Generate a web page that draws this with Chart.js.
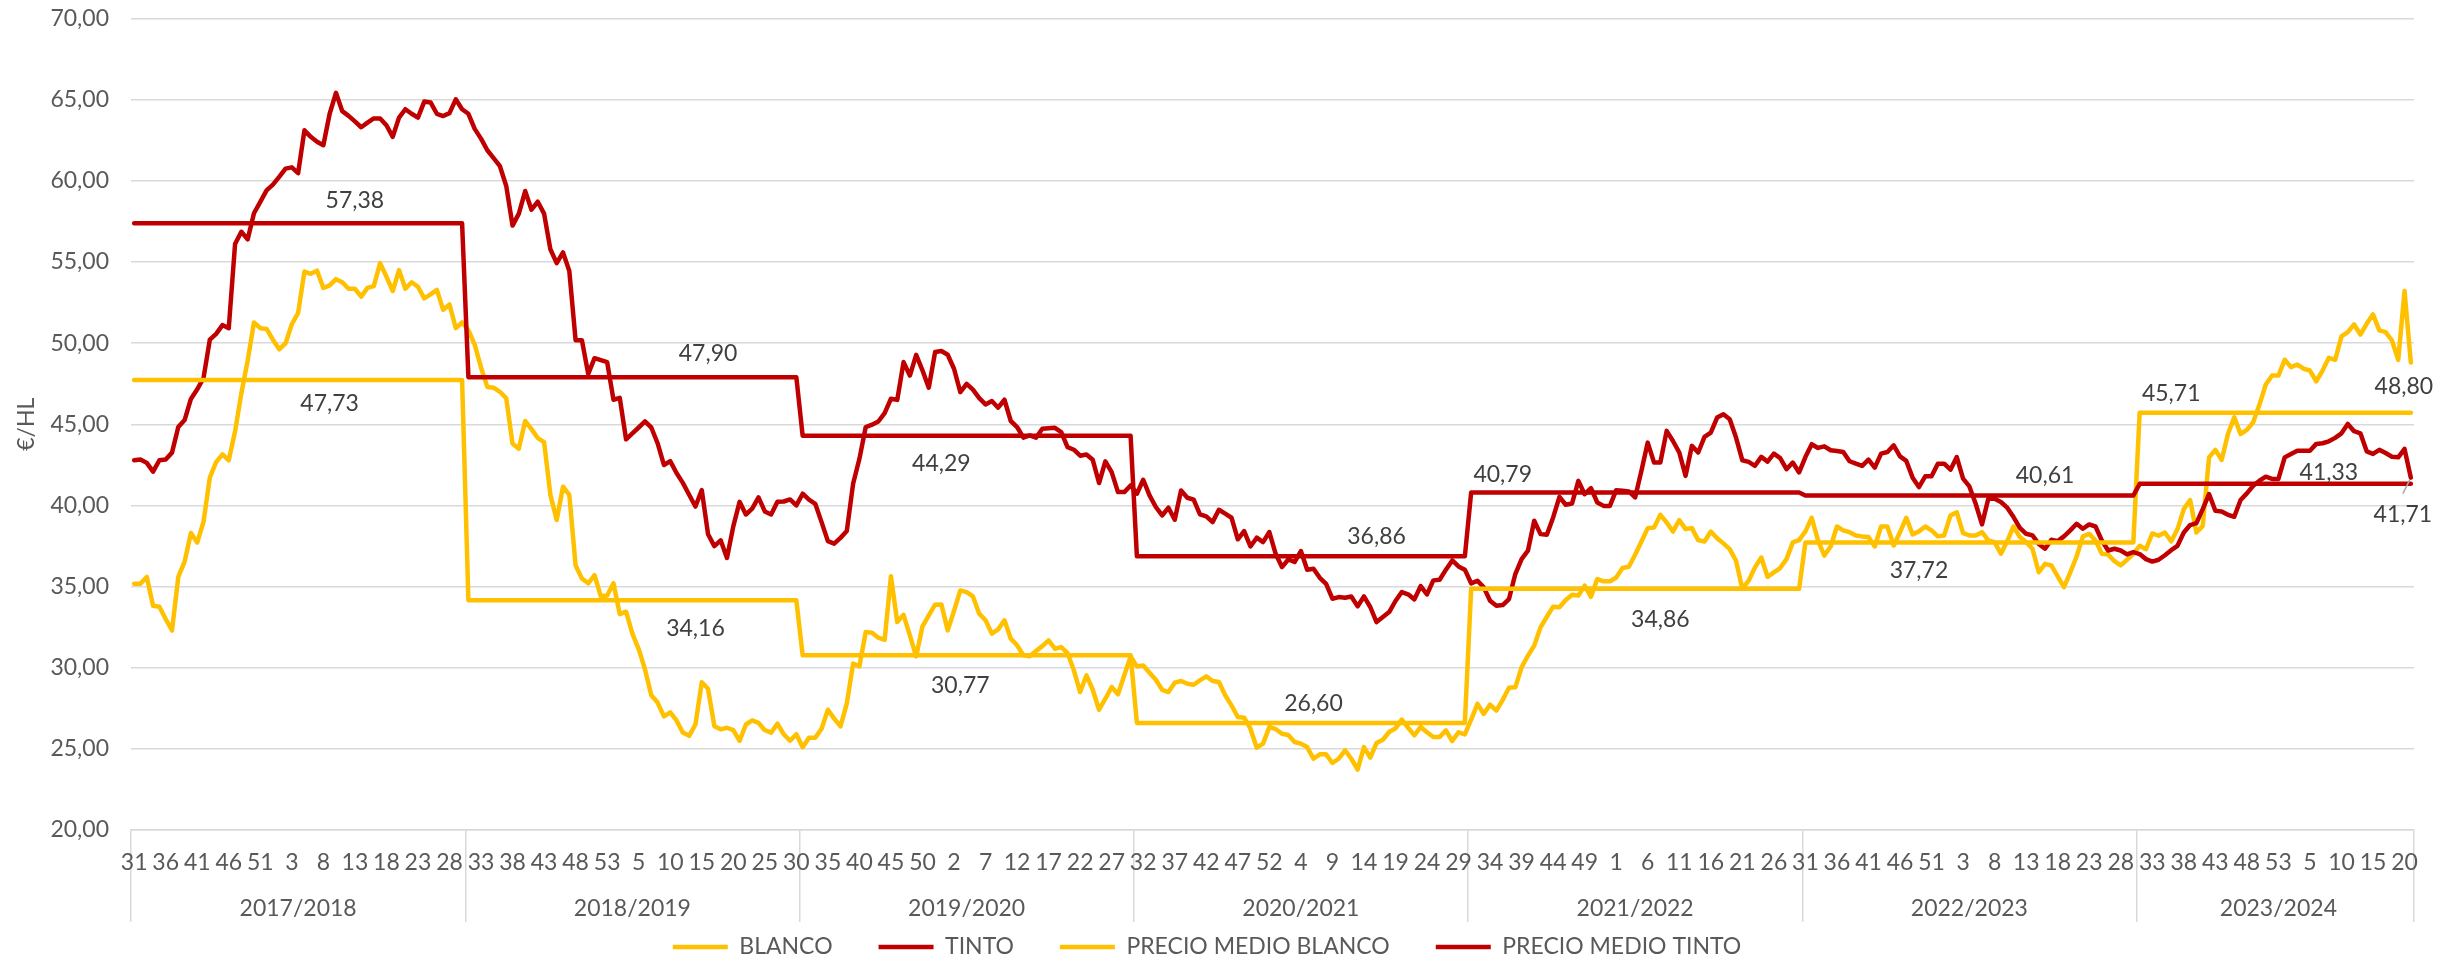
<!DOCTYPE html>
<html>
<head>
<meta charset="utf-8">
<script src="https://cdn.jsdelivr.net/npm/chart.js@4.4.1/dist/chart.umd.min.js"></script>
<style>
  html, body { margin: 0; padding: 0; background: #ffffff; }
  #wrap { width: 2456px; height: 963px; position: relative; }
</style>
</head>
<body>
<div id="wrap"><canvas id="chart"></canvas></div>
<script>
// ---------------- DATA ----------------
const campaigns = ['2017/2018', '2018/2019', '2019/2020', '2020/2021', '2021/2022', '2022/2023', '2023/2024'];
const campaignFirstWeek = 31;
const weeksPerYear = 53;

// BLANCO (€/HL), weekly, per campaign
const blanco1718 = [35.17, 35.17, 35.59, 33.82, 33.75, 33.00, 32.29, 35.59, 36.53, 38.30, 37.71, 39.00, 41.72, 42.67, 43.14, 42.78, 44.55, 46.91, 48.92, 51.27, 50.92, 50.87, 50.21, 49.62, 49.98, 51.16, 51.86, 54.41, 54.27, 54.46, 53.40, 53.56, 53.94, 53.75, 53.35, 53.35, 52.86, 53.40, 53.51, 54.93, 54.10, 53.21, 54.50, 53.35, 53.75, 53.47, 52.76, 53.00, 53.28, 52.05, 52.38, 50.92, 51.27];
const blanco1819 = [50.80, 49.90, 48.50, 47.30, 47.25, 47.00, 46.60, 43.80, 43.50, 45.20, 44.70, 44.15, 43.90, 40.65, 39.10, 41.15, 40.65, 36.30, 35.50, 35.20, 35.70, 34.40, 34.45, 35.20, 33.30, 33.45, 32.10, 31.15, 29.90, 28.30, 27.85, 27.00, 27.25, 26.75, 26.00, 25.80, 26.50, 29.10, 28.70, 26.40, 26.20, 26.30, 26.15, 25.50, 26.50, 26.75, 26.60, 26.15, 26.00, 26.55, 25.90, 25.50, 25.90];
const blanco1920 = [25.10, 25.69, 25.69, 26.24, 27.41, 26.86, 26.39, 27.78, 30.25, 30.08, 32.20, 32.16, 31.85, 31.72, 35.63, 32.81, 33.26, 31.99, 30.70, 32.55, 33.22, 33.88, 33.90, 32.30, 33.49, 34.76, 34.66, 34.39, 33.33, 32.92, 32.10, 32.36, 32.92, 31.79, 31.38, 30.76, 30.70, 31.03, 31.33, 31.68, 31.17, 31.27, 30.90, 29.84, 28.50, 29.53, 28.64, 27.41, 28.09, 28.81, 28.36, 29.53, 30.70];
const blanco2021 = [30.08, 30.14, 29.69, 29.26, 28.64, 28.50, 29.08, 29.18, 29.01, 28.95, 29.22, 29.47, 29.18, 29.12, 28.30, 27.68, 26.96, 26.92, 26.24, 25.07, 25.32, 26.35, 26.22, 25.93, 25.85, 25.42, 25.32, 25.11, 24.39, 24.66, 24.66, 24.13, 24.39, 24.91, 24.39, 23.72, 25.11, 24.46, 25.36, 25.56, 26.04, 26.26, 26.80, 26.30, 25.83, 26.35, 26.02, 25.73, 25.73, 26.14, 25.48, 26.02, 25.89];
const blanco2122 = [26.80, 27.77, 27.15, 27.73, 27.36, 28.02, 28.76, 28.79, 30.03, 30.74, 31.36, 32.49, 33.14, 33.76, 33.72, 34.17, 34.50, 34.44, 35.05, 34.37, 35.46, 35.32, 35.32, 35.56, 36.14, 36.22, 36.96, 37.78, 38.60, 38.64, 39.42, 38.95, 38.39, 39.09, 38.54, 38.60, 37.86, 37.78, 38.39, 37.98, 37.66, 37.31, 36.59, 34.85, 35.36, 36.18, 36.79, 35.60, 35.87, 36.14, 36.69, 37.72, 37.86];
const blanco2223 = [38.40, 39.24, 37.84, 36.91, 37.47, 38.70, 38.46, 38.35, 38.15, 38.09, 38.05, 37.47, 38.70, 38.70, 37.53, 38.35, 39.24, 38.21, 38.40, 38.70, 38.46, 38.09, 38.15, 39.38, 39.57, 38.29, 38.15, 38.15, 38.35, 37.84, 37.74, 37.02, 37.80, 38.70, 38.05, 37.74, 37.33, 35.88, 36.40, 36.30, 35.62, 34.96, 35.88, 36.85, 38.09, 38.25, 37.84, 37.02, 36.98, 36.56, 36.30, 36.65, 37.02];
const blanco2324 = [37.51, 37.30, 38.27, 38.13, 38.33, 37.78, 38.54, 39.77, 40.33, 38.33, 38.74, 42.96, 43.42, 42.80, 44.40, 45.43, 44.40, 44.65, 45.12, 46.21, 47.45, 48.00, 48.00, 48.97, 48.52, 48.68, 48.42, 48.31, 47.65, 48.31, 49.09, 48.97, 50.41, 50.68, 51.15, 50.53, 51.19, 51.77, 50.78, 50.68, 50.16, 48.97, 53.21, 48.80];

// TINTO (€/HL), weekly, per campaign
const tinto1718 = [42.78, 42.83, 42.62, 42.08, 42.78, 42.83, 43.25, 44.83, 45.26, 46.56, 47.15, 47.85, 50.21, 50.57, 51.11, 50.92, 56.10, 56.86, 56.39, 58.00, 58.70, 59.41, 59.76, 60.24, 60.75, 60.83, 60.47, 63.11, 62.71, 62.41, 62.19, 64.13, 65.42, 64.29, 64.00, 63.66, 63.30, 63.58, 63.84, 63.84, 63.42, 62.71, 63.89, 64.41, 64.13, 63.89, 64.88, 64.83, 64.13, 63.99, 64.17, 65.02, 64.41];
const tinto1819 = [64.13, 63.20, 62.60, 61.88, 61.40, 60.90, 59.68, 57.24, 57.98, 59.37, 58.22, 58.71, 57.98, 55.78, 54.93, 55.59, 54.44, 50.17, 50.17, 48.10, 49.07, 48.95, 48.83, 46.51, 46.63, 44.07, 44.44, 44.80, 45.17, 44.80, 43.83, 42.49, 42.73, 42.00, 41.39, 40.66, 39.93, 40.95, 38.22, 37.49, 37.85, 36.76, 38.71, 40.22, 39.44, 39.80, 40.49, 39.63, 39.44, 40.22, 40.24, 40.37, 40.00];
const tinto1920 = [40.72, 40.35, 40.10, 38.97, 37.80, 37.64, 38.00, 38.42, 41.33, 42.87, 44.83, 44.97, 45.17, 45.69, 46.57, 46.50, 48.83, 48.00, 49.28, 48.32, 47.25, 49.45, 49.51, 49.28, 48.42, 46.98, 47.49, 47.13, 46.61, 46.22, 46.43, 46.02, 46.51, 45.20, 44.83, 44.17, 44.31, 44.17, 44.72, 44.76, 44.78, 44.52, 43.59, 43.43, 43.06, 43.14, 42.81, 41.38, 42.71, 42.05, 40.82, 40.82, 41.23];
const tinto2021 = [40.72, 41.58, 40.62, 39.90, 39.38, 39.86, 39.12, 40.92, 40.47, 40.35, 39.45, 39.32, 38.97, 39.73, 39.49, 39.24, 37.91, 38.42, 37.47, 38.01, 37.74, 38.36, 37.02, 36.20, 36.67, 36.51, 37.19, 36.04, 36.10, 35.54, 35.17, 34.25, 34.35, 34.31, 34.39, 33.78, 34.39, 33.74, 32.81, 33.12, 33.43, 34.11, 34.66, 34.52, 34.21, 35.03, 34.52, 35.38, 35.42, 36.04, 36.61, 36.24, 36.04];
const tinto2122 = [35.20, 35.36, 34.95, 34.13, 33.82, 33.86, 34.23, 35.77, 36.69, 37.21, 39.05, 38.23, 38.19, 39.26, 40.53, 40.04, 40.12, 41.51, 40.69, 41.06, 40.18, 39.97, 39.97, 40.94, 40.90, 40.86, 40.49, 42.13, 43.87, 42.64, 42.64, 44.59, 43.97, 43.26, 41.82, 43.67, 43.26, 44.22, 44.49, 45.41, 45.62, 45.31, 44.18, 42.78, 42.68, 42.44, 42.99, 42.70, 43.19, 42.91, 42.23, 42.64, 42.03];
const tinto2223 = [42.98, 43.77, 43.54, 43.64, 43.40, 43.35, 43.29, 42.72, 42.57, 42.43, 42.82, 42.33, 43.19, 43.29, 43.70, 43.02, 42.74, 41.71, 41.13, 41.79, 41.79, 42.57, 42.57, 42.20, 42.98, 41.65, 41.17, 40.10, 38.83, 40.41, 40.41, 40.21, 39.86, 39.28, 38.62, 38.25, 38.15, 37.63, 37.33, 37.88, 37.80, 38.09, 38.46, 38.87, 38.56, 38.83, 38.70, 37.84, 37.22, 37.33, 37.22, 36.98, 37.12];
const tinto2324 = [37.00, 36.69, 36.54, 36.65, 36.93, 37.24, 37.51, 38.33, 38.79, 38.91, 39.77, 40.70, 39.67, 39.63, 39.42, 39.30, 40.33, 40.74, 41.21, 41.52, 41.77, 41.63, 41.63, 42.96, 43.17, 43.37, 43.37, 43.37, 43.79, 43.83, 43.95, 44.16, 44.44, 45.02, 44.57, 44.44, 43.33, 43.17, 43.42, 43.23, 43.00, 42.96, 43.48, 41.71];

// Average price per campaign (€/HL)
const precioMedioBlanco = [47.73, 34.16, 30.77, 26.60, 34.86, 37.72, 45.71];
const precioMedioTinto  = [57.38, 47.90, 44.29, 36.86, 40.79, 40.61, 41.33];

const seriesNames = ['BLANCO', 'TINTO', 'PRECIO MEDIO BLANCO', 'PRECIO MEDIO TINTO'];
const blancoByCampaign = [blanco1718, blanco1819, blanco1920, blanco2021, blanco2122, blanco2223, blanco2324];
const tintoByCampaign  = [tinto1718, tinto1819, tinto1920, tinto2021, tinto2122, tinto2223, tinto2324];

// ---------------- BUILD TABLE ----------------
const weekLabels = [], blanco = [], tinto = [], medioBlanco = [], medioTinto = [];
const campaignStart = [], campaignMid = [];
blancoByCampaign.forEach((arr, c) => {
  campaignStart.push(weekLabels.length);
  campaignMid.push(weekLabels.length + Math.floor(arr.length / 2));
  arr.forEach((v, k) => {
    weekLabels.push(String(((campaignFirstWeek - 1 + k) % weeksPerYear) + 1));
    blanco.push(v);
    tinto.push(tintoByCampaign[c][k]);
    medioBlanco.push(precioMedioBlanco[c]);
    medioTinto.push(precioMedioTinto[c]);
  });
});
const startSet = new Set(campaignStart);

// ---------------- STYLE ----------------
const FONT = 'Lato';
const FS = 23;
const GOLD = '#FFC000';
const RED = '#C00000';
const GRID = '#D9D9D9';
const TXT = '#595959';

// label placement (which point gets a value label, and offset in px)
const labelPlacement = [
  {ds: 3, campaign: 0, week: 35, dy: -22.5},
  {ds: 2, campaign: 0, week: 31, dy: 23.5},
  {ds: 3, campaign: 1, week: 38, dy: -24},
  {ds: 2, campaign: 1, week: 36, dy: 28},
  {ds: 3, campaign: 2, week: 22, dy: 28},
  {ds: 2, campaign: 2, week: 25, dy: 30},
  {ds: 3, campaign: 3, week: 38, dy: -19.5},
  {ds: 2, campaign: 3, week: 28, dy: -19.5},
  {ds: 3, campaign: 4, week: 5, dy: -18.5},
  {ds: 2, campaign: 4, week: 30, dy: 30.5},
  {ds: 3, campaign: 5, week: 38, dy: -19.5},
  {ds: 2, campaign: 5, week: 18, dy: 28},
  {ds: 2, campaign: 6, week: 5, dy: -19.5},
  {ds: 3, campaign: 6, week: 30, dy: -11},
  {ds: 0, last: true, dx: -7, dy: 24.5},
  {ds: 1, last: true, dx: -8, dy: 36.5, leader: true}
];

const fmt = v => v.toFixed(2).replace('.', ',');

const valueLabels = {
  id: 'valueLabels',
  afterDatasetsDraw(chart) {
    const ctx = chart.ctx;
    ctx.save();
    ctx.font = FS + 'px ' + FONT;
    ctx.fillStyle = '#404040';
    ctx.textAlign = 'center';
    ctx.textBaseline = 'middle';
    labelPlacement.forEach(p => {
      const meta = chart.getDatasetMeta(p.ds);
      const idx = p.last ? meta.data.length - 1 : campaignStart[p.campaign] + p.week;
      const pt = meta.data[idx];
      const val = chart.data.datasets[p.ds].data[idx];
      const x = pt.x + (p.dx || 0);
      const y = pt.y + p.dy;
      if (p.leader) {
        ctx.save();
        ctx.strokeStyle = '#A6A6A6';
        ctx.lineWidth = 1.5;
        ctx.beginPath();
        ctx.moveTo(pt.x - 8, pt.y + 16);
        ctx.lineTo(pt.x - 1, pt.y + 2);
        ctx.stroke();
        ctx.restore();
      }
      ctx.fillText(fmt(val), x, y);
    });
    ctx.restore();
  }
};

const lineStyle = (color, width) => ({
  borderColor: color, backgroundColor: color, borderWidth: width,
  pointRadius: 0, pointHoverRadius: 0, tension: 0, fill: false,
  borderJoinStyle: 'round', borderCapStyle: 'round'
});

Chart.defaults.font.family = FONT;
Chart.defaults.font.size = FS;
Chart.defaults.color = TXT;

new Chart(document.getElementById('chart'), {
  type: 'line',
  data: {
    labels: weekLabels,
    datasets: [
      Object.assign({label: seriesNames[0], data: blanco, order: 4}, lineStyle(GOLD, 4.5)),
      Object.assign({label: seriesNames[1], data: tinto, order: 3}, lineStyle(RED, 4.5)),
      Object.assign({label: seriesNames[2], data: medioBlanco, order: 2}, lineStyle(GOLD, 4.5)),
      Object.assign({label: seriesNames[3], data: medioTinto, order: 1}, lineStyle(RED, 4.5))
    ]
  },
  options: {
    responsive: true,
    maintainAspectRatio: false,
    animation: false,
    events: [],
    layout: { padding: { top: 18.5, right: 42, bottom: -5.5, left: 0 } },
    plugins: {
      tooltip: { enabled: false },
      legend: {
        position: 'bottom',
        labels: {
          usePointStyle: true,
          pointStyle: 'line',
          pointStyleWidth: 55,
          boxWidth: 55,
          padding: 46,
          color: TXT,
          font: { size: FS, family: FONT },
          sort: (a, b) => a.datasetIndex - b.datasetIndex
        }
      }
    },
    scales: {
      x: {
        type: 'category',
        offset: true,
        grid: {
          display: true,
          drawOnChartArea: false,
          drawTicks: true,
          tickLength: 92,
          offset: true,
          lineWidth: 1.5,
          color: c => (c.type !== 'tick' || startSet.has(c.index)) ? GRID : 'rgba(0,0,0,0)'
        },
        border: { display: true, color: GRID, width: 1.5 },
        ticks: {
          autoSkip: false,
          maxRotation: 0,
          minRotation: 0,
          padding: -81.75,
          color: TXT,
          font: { size: FS, lineHeight: '45.5px' },
          callback: function (value, index) {
            const wk = index % 5 === 0 ? this.getLabelForValue(value) : '';
            const c = campaignMid.indexOf(index);
            return c >= 0 ? [wk, campaigns[c]] : wk;
          }
        },
        afterFit: s => {
          s.height = 59.5;
          // let the second label row (campaigns) extend below the compact axis box
          s._computeLabelArea = function () { return undefined; };
        }
      },
      y: {
        min: 20,
        max: 70,
        ticks: {
          stepSize: 5,
          padding: 0,
          color: TXT,
          font: { size: FS },
          callback: v => fmt(v)
        },
        grid: { color: GRID, lineWidth: 1.5, drawTicks: true, tickLength: 22, tickColor: 'rgba(0,0,0,0)' },
        border: { display: false },
        title: { display: true, text: '€/HL', color: TXT, font: { size: FS }, padding: { top: 12.7, bottom: 0 } },
        afterFit: s => { s.width = 131; }
      }
    }
  },
  plugins: [valueLabels]
});
</script>
</body>
</html>
